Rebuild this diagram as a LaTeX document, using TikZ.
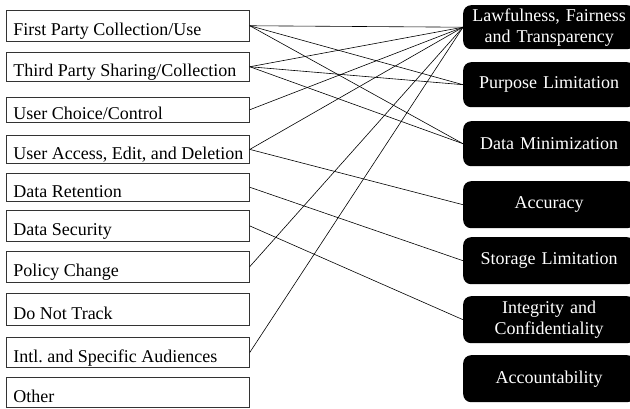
\documentclass[tikz,border=0pt]{standalone}
\usepackage{fontspec}
\setmainfont{Liberation Serif}
\frenchspacing
\newcommand{\lbtext}[1]{\makebox[229pt][l]{#1}}
\begin{document}
\begin{tikzpicture}[x=1pt,y=-1pt,
  lbox/.style={draw=black!80, line width=0.8pt, anchor=north west,
    minimum width=243pt, inner xsep=7pt, inner ysep=0pt,
    font=\fontsize{18}{20}\selectfont, text height=20pt, text depth=0pt},
  rbox/.style={fill=black, text=white, rounded corners=8pt, anchor=north west,
    minimum width=172pt, text width=160pt, inner xsep=6pt, inner ysep=0pt,
    align=center, font=\fontsize{18}{21}\selectfont},
  link/.style={draw=black, line width=0.6pt}]
\useasboundingbox (0,0) rectangle (630,408);
% left boxes
\node[lbox, minimum height=30.7pt] (l1) at (6,10) {\lbtext{First Party Collection/Use}};
\node[lbox, minimum height=28.7pt] (l2) at (6,52) {\lbtext{Third Party Sharing/Collection}};
\node[lbox, minimum height=25.3pt] (l3) at (6,96.7) {\lbtext{User Choice/Control}};
\node[lbox, minimum height=28pt] (l4) at (6,135) {\lbtext{User Access, Edit, and Deletion}};
\node[lbox, minimum height=27.7pt] (l5) at (6,173) {\lbtext{Data Retention}};
\node[lbox, minimum height=31pt] (l6) at (6,210) {\lbtext{Data Security}};
\node[lbox, minimum height=31pt] (l7) at (6,250.7) {\lbtext{Policy Change}};
\node[lbox, minimum height=32pt] (l8) at (6,293) {\lbtext{Do Not Track}};
\node[lbox, minimum height=30pt] (l9) at (6,337) {\lbtext{Intl. and Specific Audiences}};
\node[lbox, minimum height=30pt] (l10) at (6,377) {\lbtext{Other}};
% right boxes
\node[rbox, minimum height=44pt] (r1) at (463,5) {Lawfulness, Fairness\\and Transparency};
\node[rbox, minimum height=45pt] (r2) at (463,62) {Purpose Limitation};
\node[rbox, minimum height=45pt] (r3) at (463,121) {Data Minimization};
\node[rbox, minimum height=47pt] (r4) at (463,181) {Accuracy};
\node[rbox, minimum height=47pt] (r5) at (463,237) {Storage Limitation};
\node[rbox, minimum height=47pt] (r6) at (463,296) {Integrity and\\Confidentiality};
\node[rbox, minimum height=47pt] (r7) at (463,355) {Accountability};
% connectors
\draw[link] (l1.east) -- (r1.west);
\draw[link] (l1.east) -- (r2.west);
\draw[link] (l1.east) -- (r3.west);
\draw[link] (l2.east) -- (r1.west);
\draw[link] (l2.east) -- (r2.west);
\draw[link] (l2.east) -- (r3.west);
\draw[link] (l3.east) -- (r1.west);
\draw[link] (l4.east) -- (r1.west);
\draw[link] (l4.east) -- (r4.west);
\draw[link] (l5.east) -- (r5.west);
\draw[link] (l6.east) -- (r6.west);
\draw[link] (l7.east) -- (r1.west);
\draw[link] (l9.east) -- (r1.west);
\end{tikzpicture}
\end{document}
